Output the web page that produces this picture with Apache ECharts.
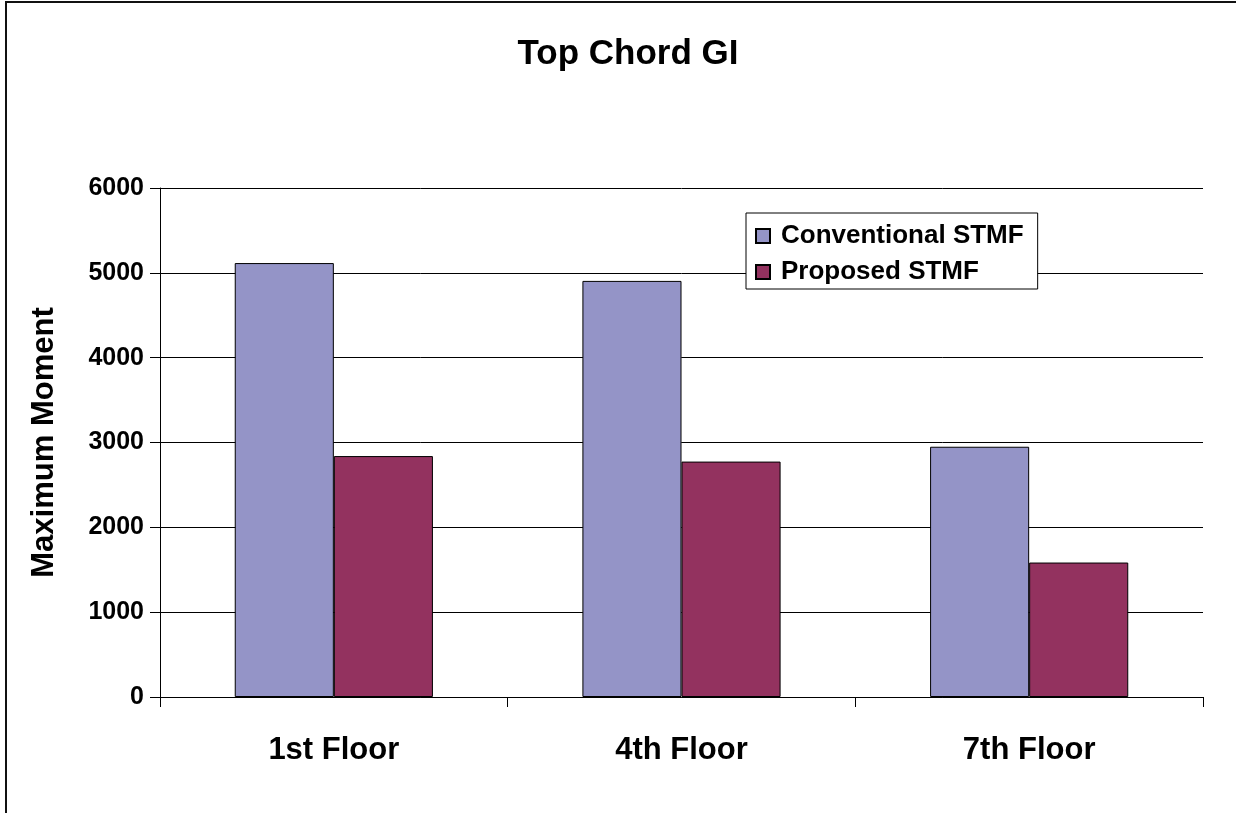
<!DOCTYPE html>
<html>
<head>
<meta charset="utf-8">
<title>Top Chord GI</title>
<script src="https://cdn.jsdelivr.net/npm/echarts@6/dist/echarts.min.js"></script>
<style>
  html, body { margin: 0; padding: 0; background: #fff; }
  #frame {
    position: absolute; left: 5px; top: 1px; width: 1240px; height: 830px;
    border-left: 2px solid #111; border-top: 2px solid #111;
  }
  #chart { position: absolute; left: 0; top: 0; width: 1236px; height: 813px; }
</style>
</head>
<body>
<div id="frame"></div>
<div id="chart"></div>
<script>
// Maximum moment in the top chord, per floor
const categories = ['1st Floor', '4th Floor', '7th Floor'];
const conventionalSTMF = [5115, 4905, 2950];
const proposedSTMF = [2840, 2775, 1585];
const yTicks = { min: 0, max: 6000, interval: 1000 };

const FONT = '"Liberation Sans", Arial, sans-serif';
const chart = echarts.init(document.getElementById('chart'), null, { renderer: 'canvas' });

chart.setOption({
  animation: false,
  backgroundColor: 'transparent',
  title: {
    text: 'Top Chord GI',
    left: 623, top: 32, textAlign: 'center',
    textStyle: { fontFamily: FONT, fontWeight: 'bold', fontSize: 35, color: '#000' }
  },
  legend: {
    data: ['Conventional STMF', 'Proposed STMF'],
    orient: 'vertical',
    left: 746, top: 213,
    padding: [10, 14, 4, 9],
    itemGap: 10,
    itemWidth: 14, itemHeight: 14,
    icon: 'rect',
    backgroundColor: '#fff',
    borderColor: '#000', borderWidth: 1,
    textStyle: { fontFamily: FONT, fontWeight: 'bold', fontSize: 26, color: '#000', padding: [0, 0, 0, 6] }
  },
  grid: { left: 160, right: 33, top: 188, bottom: 116, containLabel: false },
  xAxis: {
    type: 'category',
    data: categories,
    axisLine: { lineStyle: { color: '#000', width: 1 } },
    axisTick: { show: true, length: 10, inside: false, lineStyle: { color: '#000' } },
    axisLabel: { fontFamily: FONT, fontWeight: 'bold', fontSize: 31, color: '#000', margin: 38 }
  },
  yAxis: {
    type: 'value',
    min: yTicks.min, max: yTicks.max, interval: yTicks.interval,
    name: 'Maximum Moment',
    nameLocation: 'middle', nameRotate: 90, nameGap: 100,
    nameTextStyle: { fontFamily: FONT, fontWeight: 'bold', fontSize: 31, color: '#000' },
    axisLine: { show: true, lineStyle: { color: '#000', width: 1 } },
    axisTick: { show: true, length: 10, inside: false, lineStyle: { color: '#000' } },
    axisLabel: {
      fontFamily: FONT, fontWeight: 'bold', fontSize: 25, color: '#000', margin: 16,
      formatter: (v) => String(v)
    },
    splitLine: { show: true, lineStyle: { color: '#000', width: 1 } }
  },
  series: [
    {
      name: 'Conventional STMF', type: 'bar', data: conventionalSTMF,
      barGap: '0%', barCategoryGap: '43%',
      itemStyle: { color: '#9494C7', borderColor: '#000', borderWidth: 1 }
    },
    {
      name: 'Proposed STMF', type: 'bar', data: proposedSTMF,
      barGap: '0%', barCategoryGap: '43%',
      itemStyle: { color: '#93325F', borderColor: '#000', borderWidth: 1 }
    }
  ]
});
</script>
</body>
</html>
